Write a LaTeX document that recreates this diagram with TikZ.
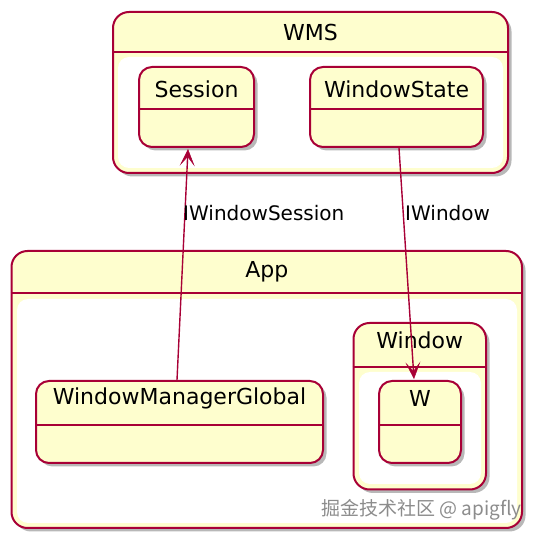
\documentclass[tikz,border=0pt]{standalone}
\usepackage{fontspec}
\newfontfamily\uifont{DejaVu Sans}
\newfontfamily\cjkfont{Noto Sans CJK SC}
\usetikzlibrary{shadows,arrows.meta}
\definecolor{pfill}{HTML}{FEFECE}
\definecolor{pline}{HTML}{A80036}
\begin{document}
\begin{tikzpicture}[x=1pt,y=-1pt,
  box/.style={draw=pline, fill=pfill, line width=2pt, rounded corners=13pt, inner sep=0pt,
    drop shadow={opacity=0.28, shadow xshift=3.5pt, shadow yshift=-3.5pt, fill=black}},
  compbox/.style={box, rounded corners=16pt},
  innerarea/.style={fill=white, rounded corners=11pt},
  hline/.style={draw=pline, line width=2pt},
  title/.style={font=\uifont\fontsize{22}{25}\selectfont, inner sep=0pt, text=black},
  lbl/.style={font=\uifont\fontsize{20}{23}\selectfont, inner sep=0pt, text=black, anchor=west},
  arr/.style={draw=pline, line width=1.4pt, -{Stealth[length=17pt,width=15pt,inset=9pt,line width=0.5pt]}},
  wmark/.style={font=\cjkfont\fontsize{19}{22}\selectfont, text=black!45, inner sep=0pt, anchor=east}
]
\useasboundingbox (0,0) rectangle (539,537);

% WMS composite
\node[compbox, minimum width=395pt, minimum height=161pt] (wms) at (310.5,92.5) {};
\fill[innerarea] (118,57) rectangle (503,168);
\draw[hline] (wms.west |- 0,52) -- (wms.east |- 0,52);
\node[title] (wmst) at (310.5,32) {WMS};

\node[box, minimum width=115pt, minimum height=80pt] (sess) at (196.5,107) {};
\draw[hline] (sess.west |- 0,109) -- (sess.east |- 0,109);
\node[title] (sesst) at (196.5,89) {Session};

\node[box, minimum width=173pt, minimum height=80pt] (wst) at (396.5,107) {};
\draw[hline] (wst.west |- 0,109) -- (wst.east |- 0,109);
\node[title] (wstt) at (396.5,89) {WindowState};

% App composite
\node[compbox, minimum width=510.5pt, minimum height=277pt] (app) at (266.75,389.5) {};
\fill[innerarea] (17,299) rectangle (517,523);
\draw[hline] (app.west |- 0,293) -- (app.east |- 0,293);
\node[title] (appt) at (266.75,272) {App};

\node[box, minimum width=287pt, minimum height=82pt] (wmg) at (179.5,422) {};
\draw[hline] (wmg.west |- 0,425) -- (wmg.east |- 0,425);
\node[title] (wmgt) at (179.5,398) {WindowManagerGlobal};

% Window composite
\node[compbox, minimum width=132.5pt, minimum height=166.5pt] (win) at (419.75,406.25) {};
\fill[innerarea] (359,372) rectangle (481,484);
\draw[hline] (win.west |- 0,367) -- (win.east |- 0,367);
\node[title] (wint) at (419.75,340) {Window};

\node[box, minimum width=82pt, minimum height=82pt] (w) at (420,422) {};
\draw[hline] (w.west |- 0,425) -- (w.east |- 0,425);
\node[title] (wt) at (420,398) {W};

% connectors
\draw[arr] ([xshift=-2.5pt]wmg.north) -- ([xshift=-8.5pt,yshift=-1pt]sess.south);
\draw[arr] ([xshift=2.5pt]wst.south) -- ([xshift=-6pt,yshift=1pt]w.north);
\node[lbl] (l1) at (183,213) {IWindowSession};
\node[lbl] (l2) at (405,213) {IWindow};

% watermark
\node[wmark] (wm) at (522,510) {掘金技术社区 @ apigfly};
\end{tikzpicture}
\end{document}
